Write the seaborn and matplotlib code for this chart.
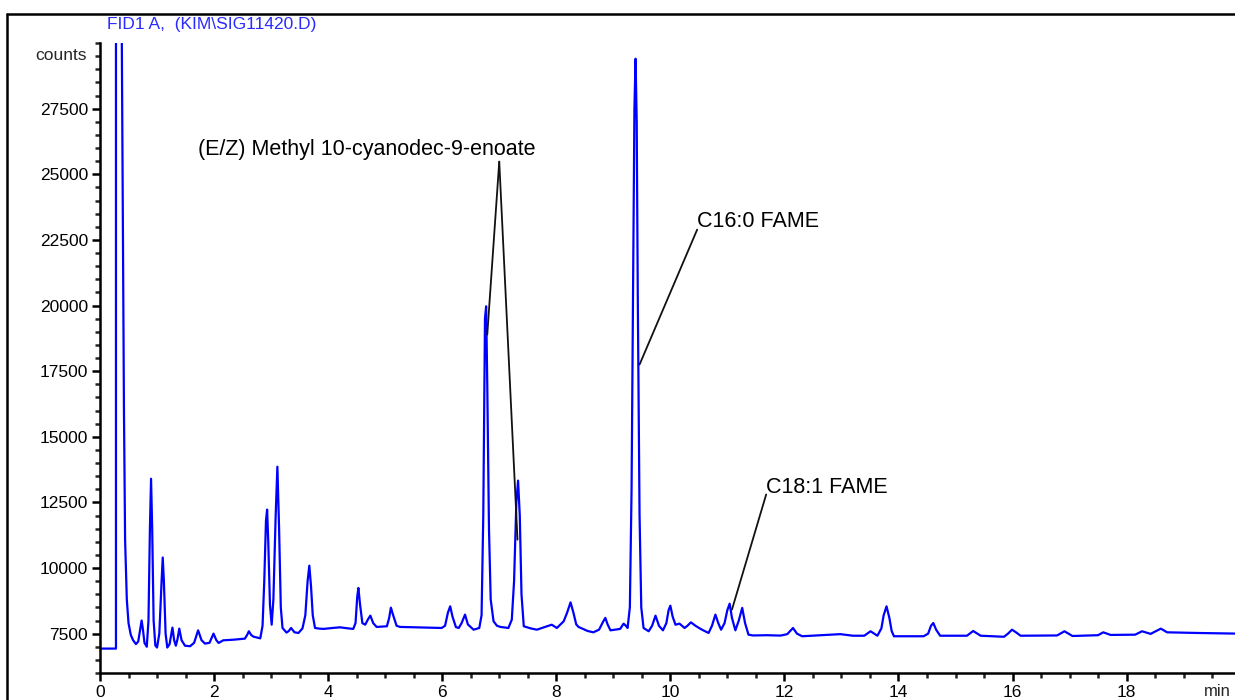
import matplotlib
matplotlib.use("Agg")
import matplotlib.pyplot as plt
from matplotlib.lines import Line2D
from matplotlib.ticker import MultipleLocator
import seaborn as sns
import pandas as pd

# ---------------- data ----------------
rt_min = [0.00, 0.28, 0.28, 0.38, 0.42, 0.44, 0.47, 0.50, 0.54, 0.58, 0.63, 0.67, 0.70, 0.73,
          0.75, 0.78, 0.82, 0.85, 0.875, 0.895, 0.915, 0.94, 0.97, 1.00, 1.04, 1.08, 1.10,
          1.12, 1.15, 1.18, 1.22, 1.27, 1.30, 1.33, 1.36, 1.39, 1.43, 1.49, 1.58, 1.65,
          1.72, 1.78, 1.84, 1.92, 1.99, 2.04, 2.08, 2.16, 2.35, 2.54, 2.58, 2.61, 2.65,
          2.69, 2.81, 2.85, 2.88, 2.91, 2.93, 2.95, 2.98, 3.01, 3.04, 3.08, 3.11, 3.14,
          3.17, 3.20, 3.27, 3.31, 3.35, 3.41, 3.48, 3.55, 3.60, 3.64, 3.67, 3.70, 3.73,
          3.77, 3.85, 3.92, 4.10, 4.21, 4.35, 4.44, 4.48, 4.51, 4.53, 4.56, 4.60, 4.65,
          4.70, 4.74, 4.79, 4.85, 5.03, 5.07, 5.10, 5.14, 5.20, 5.26, 5.99, 6.05, 6.10,
          6.14, 6.18, 6.24, 6.29, 6.34, 6.40, 6.45, 6.55, 6.65, 6.69, 6.72, 6.75, 6.77,
          6.79, 6.82, 6.85, 6.90, 6.96, 7.02, 7.16, 7.22, 7.26, 7.30, 7.33, 7.36, 7.39,
          7.43, 7.55, 7.66, 7.80, 7.92, 8.01, 8.13, 8.19, 8.25, 8.30, 8.35, 8.39, 8.55,
          8.65, 8.75, 8.82, 8.86, 8.90, 8.95, 9.12, 9.18, 9.22, 9.25, 9.29, 9.32, 9.35,
          9.37, 9.39, 9.41, 9.43, 9.46, 9.49, 9.53, 9.62, 9.68, 9.74, 9.80, 9.87, 9.93,
          9.97, 10.00, 10.04, 10.09, 10.16, 10.25, 10.30, 10.36, 10.44, 10.53, 10.60, 10.67,
          10.73, 10.79, 10.84, 10.89, 10.95, 11.00, 11.04, 11.08, 11.14, 11.20, 11.26, 11.31,
          11.37, 11.45, 11.70, 11.93, 12.05, 12.15, 12.22, 12.31, 12.55, 12.78, 12.98, 13.20,
          13.40, 13.51, 13.63, 13.70, 13.74, 13.79, 13.84, 13.88, 13.92, 14.44, 14.52, 14.57,
          14.61, 14.66, 14.73, 15.20, 15.31, 15.44, 15.85, 15.92, 15.99, 16.06, 16.14, 16.78,
          16.91, 17.05, 17.50, 17.59, 17.72, 18.15, 18.27, 18.42, 18.60, 18.71, 19.24, 19.95]
signal_counts = [6930, 6930, 31000, 31000, 16000, 11080, 8800, 7900, 7450, 7250, 7100, 7200, 7600, 8000,
                 7700, 7150, 7000, 8000, 11500, 13400, 11500, 8000, 7050, 6970, 7500, 9500, 10400,
                 9500, 7500, 6970, 7100, 7730, 7250, 7040, 7300, 7690, 7250, 7040, 7020, 7150,
                 7625, 7250, 7120, 7150, 7500, 7250, 7145, 7245, 7270, 7310, 7450, 7590, 7450,
                 7385, 7320, 7800, 9500, 11800, 12225, 11000, 8600, 7840, 8800, 12000, 13860, 11500,
                 8500, 7715, 7540, 7600, 7715, 7550, 7525, 7700, 8200, 9500, 10090, 9300, 8200,
                 7715, 7690, 7680, 7720, 7740, 7700, 7680, 7900, 8900, 9240, 8600, 7900, 7840,
                 8050, 8185, 7900, 7755, 7780, 8100, 8490, 8200, 7800, 7755, 7715, 7800, 8300,
                 8540, 8150, 7750, 7715, 7900, 8225, 7850, 7650, 7715, 8200, 12000, 19500, 19970,
                 17000, 11500, 8800, 7970, 7800, 7755, 7715, 8030, 9500, 12500, 13330, 12000, 9000,
                 7780, 7700, 7650, 7750, 7840, 7715, 7970, 8300, 8690, 8300, 7850, 7755, 7600,
                 7550, 7650, 7950, 8100, 7850, 7625, 7680, 7880, 7800, 7715, 8500, 13000, 22000,
                 27500, 29400, 27000, 20000, 12000, 8500, 7715, 7590, 7800, 8185, 7800, 7625, 7900,
                 8400, 8565, 8150, 7840, 7880, 7715, 7800, 7930, 7800, 7680, 7600, 7525,
                 7800, 8225, 7900, 7650, 7900, 8400, 8640, 8100, 7625, 8000, 8480, 7900,
                 7460, 7430, 7440, 7425, 7480, 7715, 7500, 7400, 7430, 7460, 7480, 7420,
                 7420, 7590, 7420, 7700, 8200, 8540, 8100, 7600, 7400, 7400, 7500, 7800,
                 7905, 7650, 7420, 7420, 7600, 7420, 7380, 7500, 7650, 7550, 7420, 7430,
                 7590, 7410, 7440, 7550, 7450, 7460, 7590, 7490, 7690, 7550, 7525, 7500]

ann_labels = ["(E/Z) Methyl 10-cyanodec-9-enoate", "C16:0 FAME", "C18:1 FAME"]
ann_text_x = [1.72, 10.47, 11.68]
ann_text_y = [25950, 23200, 13060]
# leader lines: (start_x, start_y) -> (end_x, end_y)
leader_x0 = [7.00, 7.00, 10.47, 11.68]
leader_y0 = [25480, 25480, 22890, 12800]
leader_x1 = [6.79, 7.32, 9.46, 11.08]
leader_y1 = [18890, 11080, 17750, 8415]

x_tick_values = [0, 2, 4, 6, 8, 10, 12, 14, 16, 18]
y_tick_values = [7500, 10000, 12500, 15000, 17500, 20000, 22500, 25000, 27500]
title_text = "FID1 A,  (KIM\\SIG11420.D)"

# ---------------- figure ----------------
sns.set_style("ticks")
plt.rcParams['font.family'] = ['Liberation Sans', 'DejaVu Sans']

W, H = 1235, 700
fig = plt.figure(figsize=(W / 100, H / 100), dpi=100)
ax = fig.add_axes([100 / W, 27 / H, 1135 / W, 630 / H])

df = pd.DataFrame({"t": rt_min, "c": signal_counts})
sns.lineplot(data=df, x="t", y="c", sort=False, estimator=None, ax=ax,
             color="#0000ff", linewidth=1.6)

for x0, y0, x1, y1 in zip(leader_x0, leader_y0, leader_x1, leader_y1):
    ax.plot([x0, x1], [y0, y1], color="#111111", linewidth=1.3)
for lab, tx, ty in zip(ann_labels, ann_text_x, ann_text_y):
    ax.text(tx, ty, lab, fontsize=15.5, color="black", ha="left", va="center")

ax.set_xlim(0, 19.9)
ax.set_ylim(6000, 30000)
ax.set_xticks(x_tick_values)
ax.set_xticklabels([str(v) for v in x_tick_values])
ax.set_yticks(y_tick_values)
ax.set_yticklabels([str(v) for v in y_tick_values])
ax.xaxis.set_minor_locator(MultipleLocator(0.5))
ax.yaxis.set_minor_locator(MultipleLocator(500))
ax.set_xlabel("")
ax.set_ylabel("")

for s in ["top", "right"]:
    ax.spines[s].set_visible(False)
for s in ["left", "bottom"]:
    ax.spines[s].set_linewidth(1.8)
    ax.spines[s].set_color("black")
ax.tick_params(axis="both", which="major", direction="out", length=5.5, width=1.8,
               labelsize=12.5, colors="black", pad=3)
ax.tick_params(axis="both", which="minor", direction="out", length=3.5, width=1.8)

ax.text(-0.012, 1 - 13 / 630, "counts", transform=ax.transAxes, ha="right",
        va="center", fontsize=12.5)
fig.text(107 / W, 1 - 25 / H, title_text, color="#2a2aff", fontsize=12.5,
         ha="left", va="center")
fig.text(1231 / W, 1 - 692 / H, "min", fontsize=12, ha="right", va="center")

# outer page border (left and top)
fig.add_artist(Line2D([7 / W, 7 / W], [0, 1 - 14 / H], color="black", linewidth=1.8,
                      transform=fig.transFigure))
fig.add_artist(Line2D([7 / W, 1], [1 - 14 / H, 1 - 14 / H], color="black", linewidth=1.8,
                      transform=fig.transFigure))

fig.savefig("out.png", dpi=100)
